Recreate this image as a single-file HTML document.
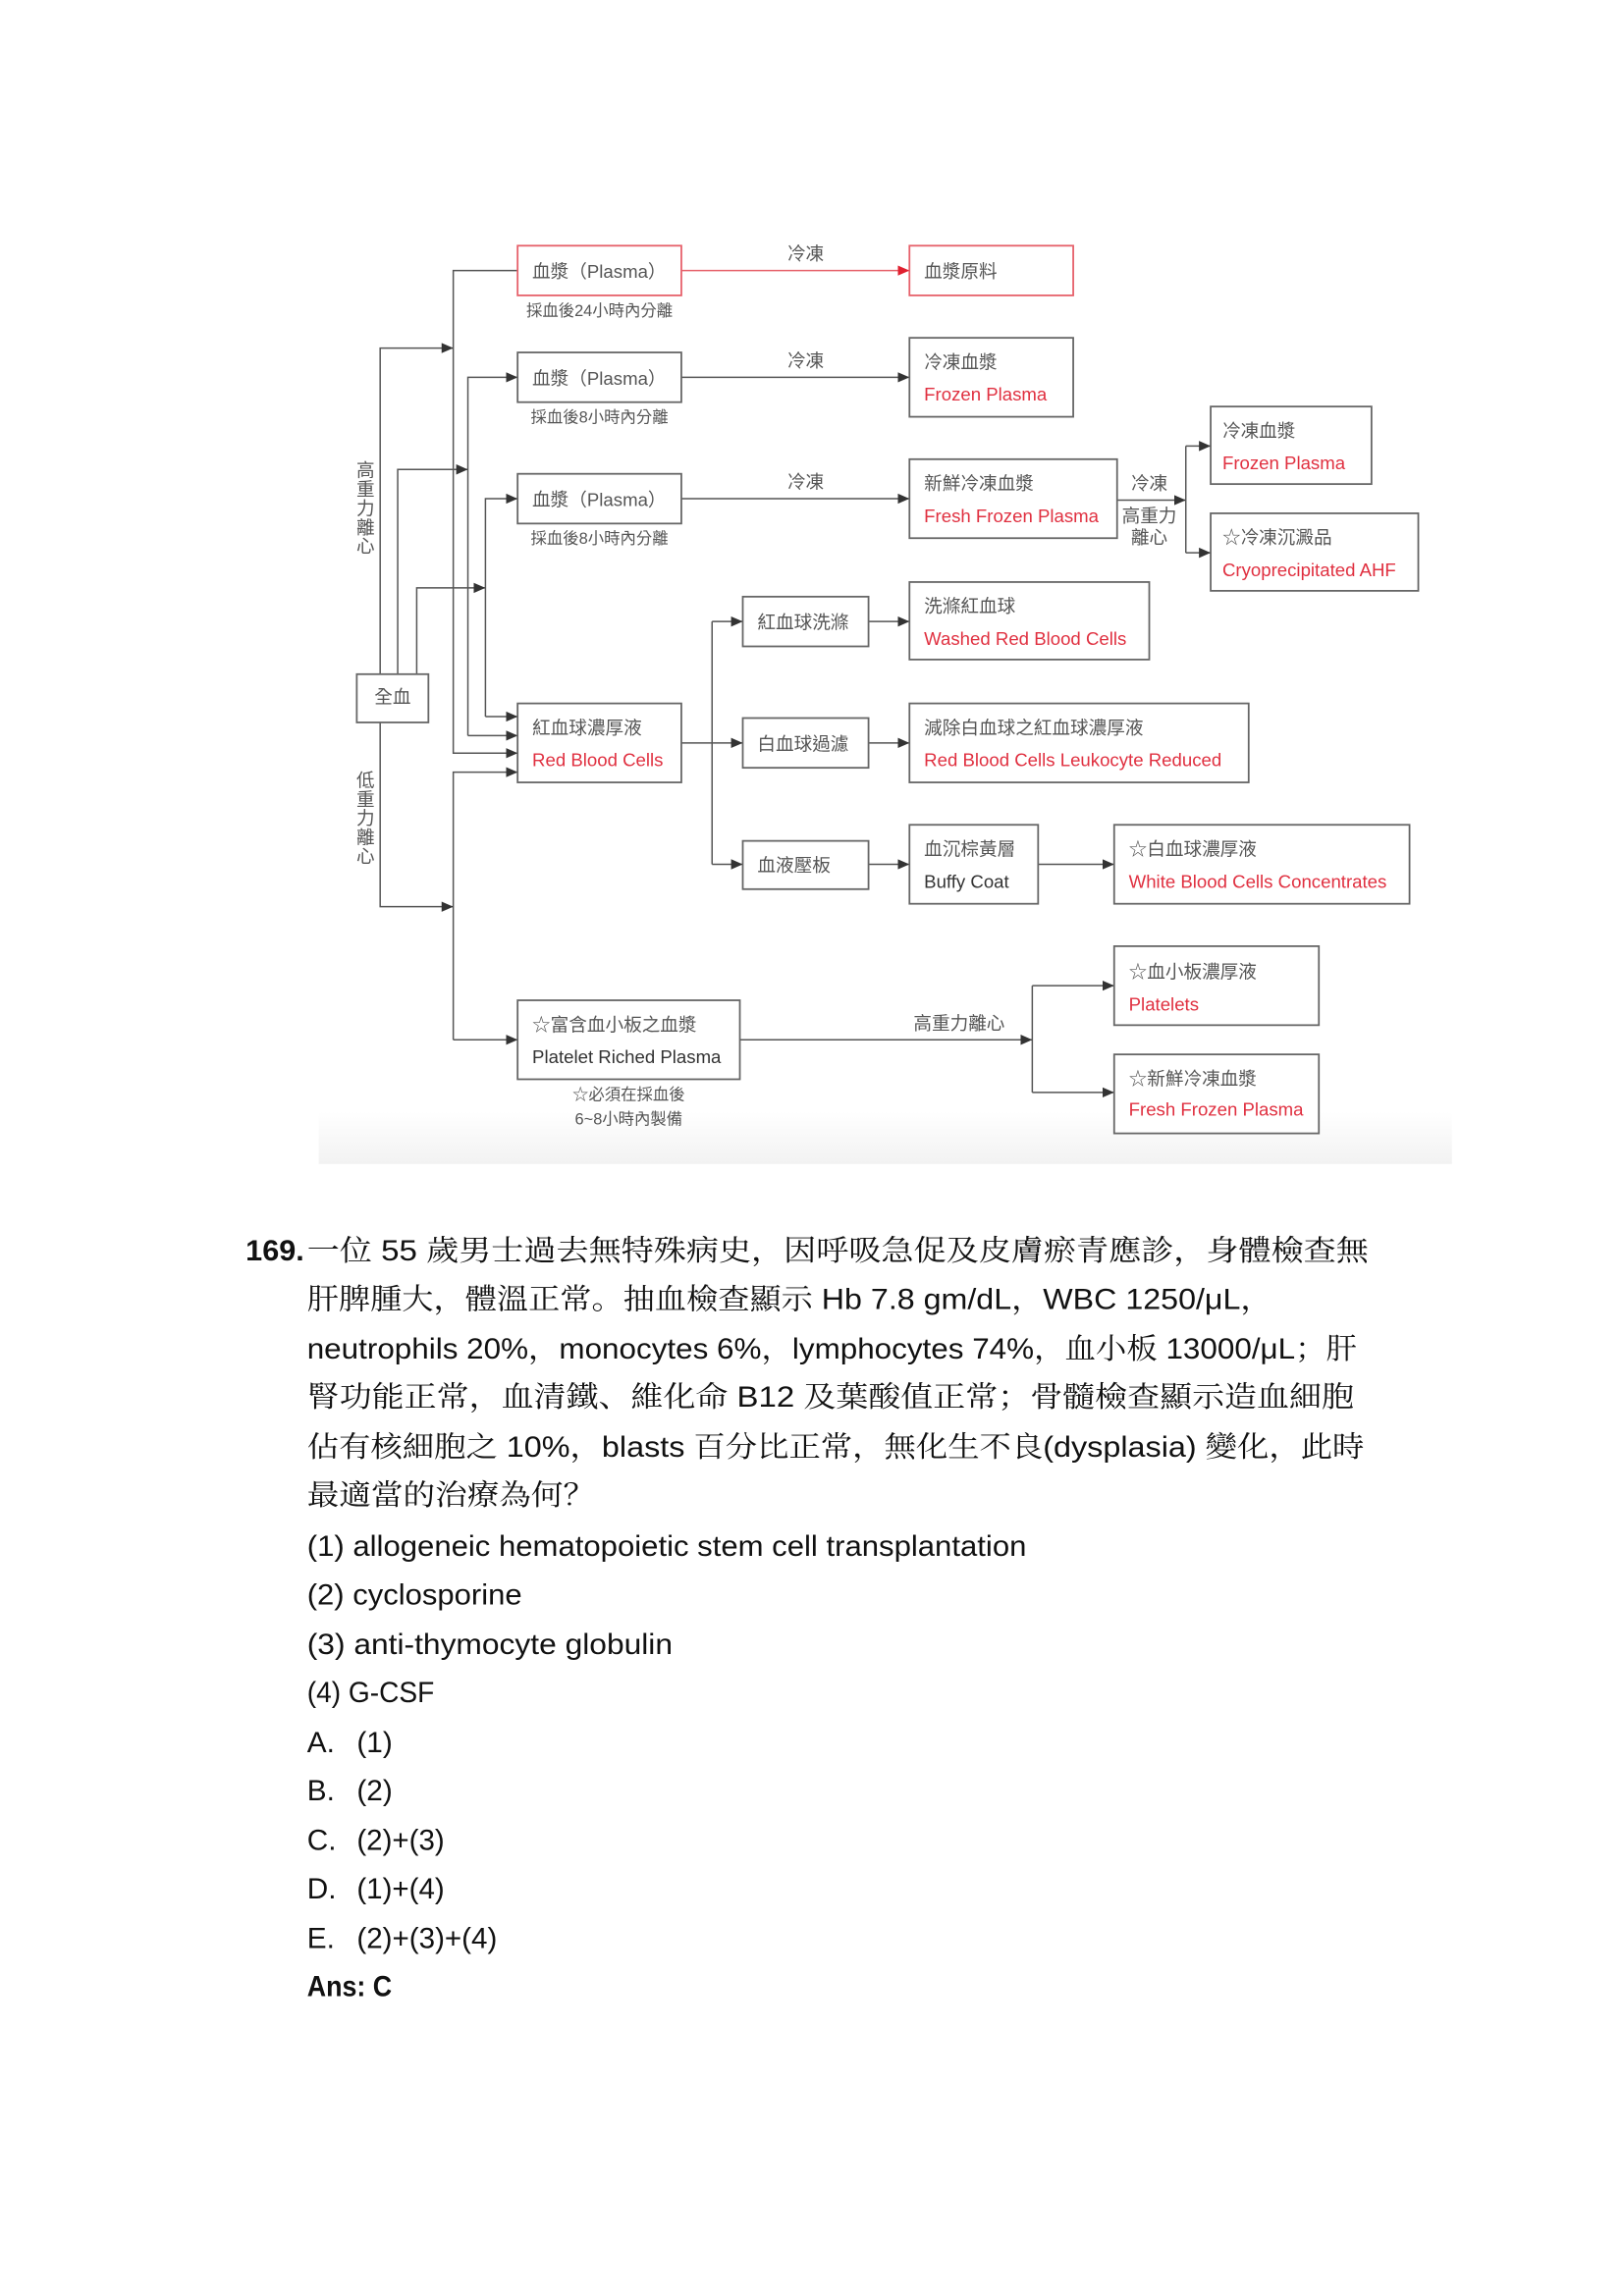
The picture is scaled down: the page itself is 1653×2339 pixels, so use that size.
<!DOCTYPE html>
<html><head><meta charset="utf-8"><style>
html,body{margin:0;padding:0;background:#fff;}
svg{display:block;}
.c{font-family:"Liberation Sans","Noto Sans CJK TC",sans-serif;font-size:12.5px;fill:#555;}
.r{font-family:"Liberation Sans","Noto Sans CJK TC",sans-serif;font-size:12.5px;fill:#e03040;}
.s{font-family:"Liberation Sans","Noto Sans CJK TC",sans-serif;font-size:11px;fill:#555;}
.q{font-family:"Liberation Sans","Noto Serif CJK SC",serif;font-size:20px;fill:#111;}
.b{font-family:"Liberation Sans","Noto Sans CJK TC",sans-serif;font-size:20px;fill:#111;font-weight:bold;}
.bx{fill:#fff;stroke:#666;stroke-width:1.2;}
.rb{fill:#fff;stroke:#e6606a;stroke-width:1.2;}
.ln{fill:none;stroke:#555;stroke-width:1;}
</style></head><body>
<svg width="1653" height="2339" viewBox="0 0 1110 1570" preserveAspectRatio="none" xmlns="http://www.w3.org/2000/svg">
<defs>
<marker id="a" markerWidth="8" markerHeight="8" refX="8" refY="4" orient="auto" markerUnits="userSpaceOnUse"><path d="M0,0.5 L8,4 L0,7.5z" fill="#333"/></marker>
<marker id="ar" markerWidth="8" markerHeight="8" refX="8" refY="4" orient="auto" markerUnits="userSpaceOnUse"><path d="M0,0.5 L8,4 L0,7.5z" fill="#e02030"/></marker>
<linearGradient id="g" x1="0" y1="0" x2="0" y2="1"><stop offset="0" stop-color="#fff"/><stop offset="1" stop-color="#f2f2f2"/></linearGradient>
</defs>
<rect x="218" y="760" width="775" height="36" fill="url(#g)"/>

<!-- connectors -->
<path class="ln" d="M260,461 V238 H310" marker-end="url(#a)"/>
<path class="ln" d="M272,461 V321 H320" marker-end="url(#a)"/>
<path class="ln" d="M285,461 V402 H332" marker-end="url(#a)"/>
<path class="ln" d="M260,494 V620 H310" marker-end="url(#a)"/>
<path class="ln" d="M354,185 H310 V515 H354" marker-end="url(#a)"/>
<path class="ln" d="M320,503 V258 H354" marker-end="url(#a)"/>
<path class="ln" d="M320,503 H354" marker-end="url(#a)"/>
<path class="ln" d="M332,490 V341 H354" marker-end="url(#a)"/>
<path class="ln" d="M332,490 H354" marker-end="url(#a)"/>
<path class="ln" d="M310,711 V528 H354" marker-end="url(#a)"/>
<path class="ln" d="M310,711 H354" marker-end="url(#a)"/>
<path d="M466,185 H622" fill="none" stroke="#e6606a" stroke-width="1" marker-end="url(#ar)"/>
<path class="ln" d="M466,258 H622" marker-end="url(#a)"/>
<path class="ln" d="M466,341 H622" marker-end="url(#a)"/>
<path class="ln" d="M764,342 H811" marker-end="url(#a)"/>
<path class="ln" d="M811,305 V378"/>
<path class="ln" d="M811,305 H828" marker-end="url(#a)"/>
<path class="ln" d="M811,378 H828" marker-end="url(#a)"/>
<path class="ln" d="M466,508 H508" marker-end="url(#a)"/>
<path class="ln" d="M487,425 V591"/>
<path class="ln" d="M487,425 H508" marker-end="url(#a)"/>
<path class="ln" d="M487,591 H508" marker-end="url(#a)"/>
<path class="ln" d="M594,425 H622" marker-end="url(#a)"/>
<path class="ln" d="M594,508 H622" marker-end="url(#a)"/>
<path class="ln" d="M594,591 H622" marker-end="url(#a)"/>
<path class="ln" d="M710,591 H762" marker-end="url(#a)"/>
<path class="ln" d="M506,711 H706" marker-end="url(#a)"/>
<path class="ln" d="M706,674 V747"/>
<path class="ln" d="M706,674 H762" marker-end="url(#a)"/>
<path class="ln" d="M706,747 H762" marker-end="url(#a)"/>

<!-- boxes -->
<rect class="bx" x="244" y="461" width="49" height="33"/><text class="c" x="268.5" y="481" text-anchor="middle">全血</text>
<text class="c" x="250" y="326" text-anchor="middle">高</text><text class="c" x="250" y="339" text-anchor="middle">重</text><text class="c" x="250" y="352" text-anchor="middle">力</text><text class="c" x="250" y="365" text-anchor="middle">離</text><text class="c" x="250" y="378" text-anchor="middle">心</text>
<text class="c" x="250" y="538" text-anchor="middle">低</text><text class="c" x="250" y="551" text-anchor="middle">重</text><text class="c" x="250" y="564" text-anchor="middle">力</text><text class="c" x="250" y="577" text-anchor="middle">離</text><text class="c" x="250" y="590" text-anchor="middle">心</text>

<rect class="rb" x="354" y="168" width="112" height="34"/><text class="c" x="364" y="190">血漿（Plasma）</text>
<text class="s" x="410" y="216" text-anchor="middle">採血後24小時內分離</text>
<text class="c" x="551" y="178" text-anchor="middle">冷凍</text>
<rect class="rb" x="622" y="168" width="112" height="34"/><text class="c" x="632" y="190">血漿原料</text>

<rect class="bx" x="354" y="241" width="112" height="34"/><text class="c" x="364" y="263">血漿（Plasma）</text>
<text class="s" x="410" y="289" text-anchor="middle">採血後8小時內分離</text>
<text class="c" x="551" y="251" text-anchor="middle">冷凍</text>
<rect class="bx" x="622" y="231" width="112" height="54"/><text class="c" x="632" y="252">冷凍血漿</text><text class="r" x="632" y="274">Frozen Plasma</text>

<rect class="bx" x="354" y="324" width="112" height="34"/><text class="c" x="364" y="346">血漿（Plasma）</text>
<text class="s" x="410" y="372" text-anchor="middle">採血後8小時內分離</text>
<text class="c" x="551" y="334" text-anchor="middle">冷凍</text>
<rect class="bx" x="622" y="314" width="142" height="54"/><text class="c" x="632" y="335">新鮮冷凍血漿</text><text class="r" x="632" y="357">Fresh Frozen Plasma</text>
<text class="c" x="786" y="335" text-anchor="middle">冷凍</text><text class="c" x="786" y="357" text-anchor="middle">高重力</text><text class="c" x="786" y="372" text-anchor="middle">離心</text>
<rect class="bx" x="828" y="278" width="110" height="53"/><text class="c" x="836" y="299">冷凍血漿</text><text class="r" x="836" y="321">Frozen Plasma</text>
<rect class="bx" x="828" y="351" width="142" height="53"/><text class="c" x="836" y="372">☆冷凍沉澱品</text><text class="r" x="836" y="394">Cryoprecipitated AHF</text>

<rect class="bx" x="354" y="481" width="112" height="54"/><text class="c" x="364" y="502">紅血球濃厚液</text><text class="r" x="364" y="524">Red Blood Cells</text>
<rect class="bx" x="508" y="408" width="86" height="34"/><text class="c" x="518" y="430">紅血球洗滌</text>
<rect class="bx" x="622" y="398" width="164" height="53"/><text class="c" x="632" y="419">洗滌紅血球</text><text class="r" x="632" y="441">Washed Red Blood Cells</text>
<rect class="bx" x="508" y="491" width="86" height="34"/><text class="c" x="518" y="513">白血球過濾</text>
<rect class="bx" x="622" y="481" width="232" height="54"/><text class="c" x="632" y="502">減除白血球之紅血球濃厚液</text><text class="r" x="632" y="524">Red Blood Cells Leukocyte Reduced</text>
<rect class="bx" x="508" y="575" width="86" height="33"/><text class="c" x="518" y="596">血液壓板</text>
<rect class="bx" x="622" y="564" width="88" height="54"/><text class="c" x="632" y="585">血沉棕黃層</text><text class="c" x="632" y="607" style="fill:#333">Buffy Coat</text>
<rect class="bx" x="762" y="564" width="202" height="54"/><text class="c" x="772" y="585">☆白血球濃厚液</text><text class="r" x="772" y="607">White Blood Cells Concentrates</text>

<rect class="bx" x="354" y="684" width="152" height="54"/><text class="c" x="364" y="705">☆富含血小板之血漿</text><text class="c" x="364" y="727" style="fill:#333">Platelet Riched Plasma</text>
<text class="s" x="430" y="752" text-anchor="middle">☆必須在採血後</text><text class="s" x="430" y="769" text-anchor="middle">6~8小時內製備</text>
<text class="c" x="656" y="704" text-anchor="middle">高重力離心</text>
<rect class="bx" x="762" y="647" width="140" height="54"/><text class="c" x="772" y="669">☆血小板濃厚液</text><text class="r" x="772" y="691">Platelets</text>
<rect class="bx" x="762" y="721" width="140" height="54"/><text class="c" x="772" y="742">☆新鮮冷凍血漿</text><text class="r" x="772" y="763">Fresh Frozen Plasma</text>

<!-- question -->
<text class="b" x="168" y="862" textLength="40" lengthAdjust="spacingAndGlyphs">169.</text>
<text class="q" x="210" y="862" textLength="726" lengthAdjust="spacingAndGlyphs">一位 55 歲男士過去無特殊病史，因呼吸急促及皮膚瘀青應診，身體檢查無</text>
<text class="q" x="210" y="895" textLength="660" lengthAdjust="spacingAndGlyphs">肝脾腫大，體溫正常。抽血檢查顯示 Hb 7.8 gm/dL，WBC 1250/μL，</text>
<text class="q" x="210" y="929" textLength="718" lengthAdjust="spacingAndGlyphs">neutrophils 20%，monocytes 6%，lymphocytes 74%，血小板 13000/μL；肝</text>
<text class="q" x="210" y="962" textLength="716" lengthAdjust="spacingAndGlyphs">腎功能正常，血清鐵、維化命 B12 及葉酸值正常；骨髓檢查顯示造血細胞</text>
<text class="q" x="210" y="996" textLength="723" lengthAdjust="spacingAndGlyphs">佔有核細胞之 10%，blasts 百分比正常，無化生不良(dysplasia)  變化，此時</text>
<text class="q" x="210" y="1029" textLength="197" lengthAdjust="spacingAndGlyphs">最適當的治療為何？</text>
<text class="q" x="210" y="1064" textLength="492" lengthAdjust="spacingAndGlyphs">(1)  allogeneic hematopoietic stem cell transplantation</text>
<text class="q" x="210" y="1097" textLength="147" lengthAdjust="spacingAndGlyphs">(2)  cyclosporine</text>
<text class="q" x="210" y="1131" textLength="250" lengthAdjust="spacingAndGlyphs">(3)  anti-thymocyte globulin</text>
<text class="q" x="210" y="1164" textLength="87" lengthAdjust="spacingAndGlyphs">(4)  G-CSF</text>
<text class="q" x="210" y="1198">A.</text><text class="q" x="244" y="1198">(1)</text>
<text class="q" x="210" y="1231">B.</text><text class="q" x="244" y="1231">(2)</text>
<text class="q" x="210" y="1265">C.</text><text class="q" x="244" y="1265" textLength="60" lengthAdjust="spacingAndGlyphs">(2)+(3)</text>
<text class="q" x="210" y="1298">D.</text><text class="q" x="244" y="1298" textLength="60" lengthAdjust="spacingAndGlyphs">(1)+(4)</text>
<text class="q" x="210" y="1332">E.</text><text class="q" x="244" y="1332" textLength="96" lengthAdjust="spacingAndGlyphs">(2)+(3)+(4)</text>
<text class="b" x="210" y="1365" textLength="58" lengthAdjust="spacingAndGlyphs">Ans: C</text>
</svg>
</body></html>
